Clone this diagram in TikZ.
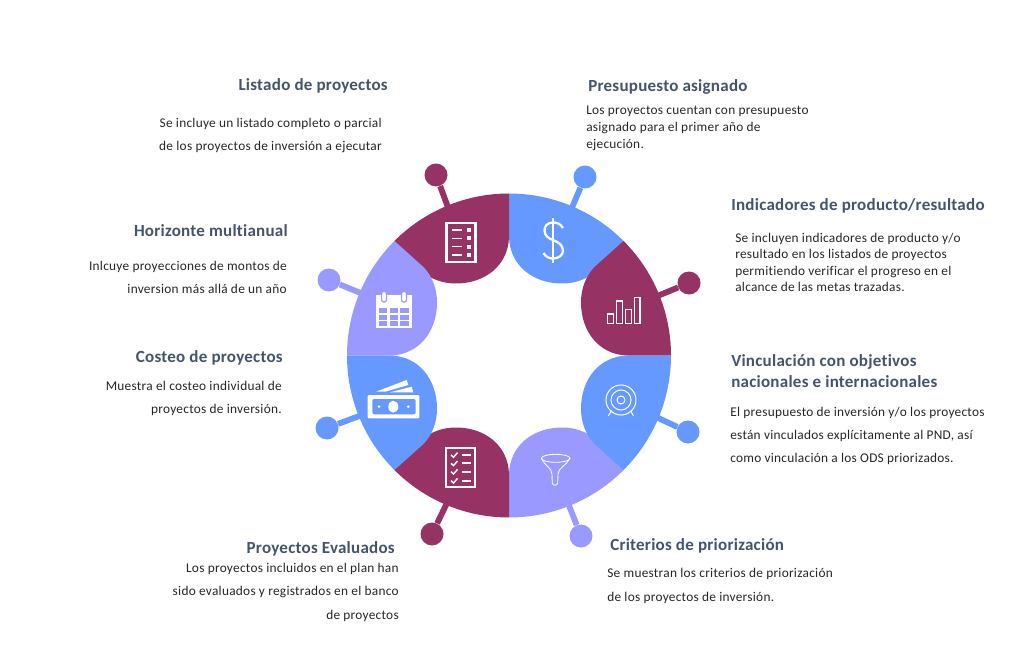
\documentclass[tikz,border=0pt]{standalone}
\usepackage{fontspec}
\setmainfont{Carlito}
\newfontfamily\bodyf[LetterSpace=2,Ligatures=NoCommon]{Carlito}
\newfontfamily\titlef[LetterSpace=1.5,Ligatures=NoCommon]{Carlito}
\definecolor{wine}{HTML}{963264}
\definecolor{skyb}{HTML}{6699FF}
\definecolor{lav}{HTML}{9999FF}
\definecolor{slateT}{HTML}{44546A}
\definecolor{bodyT}{HTML}{262626}
\tikzset{
  ttl/.style={inner sep=0pt,text=slateT,font=\titlef\fontsize{12.75}{16}\selectfont\bfseries},
  bdy/.style={inner sep=0pt,text=bodyT,font=\bodyf\fontsize{10}{#1}\selectfont},
  ball/.style={circle,fill=#1,minimum size=17.25pt,inner sep=0pt},
  stem/.style={draw=#1,line width=4.4pt},
  ico/.style={draw=white,line width=1pt},
}
\newcommand{\petalH}[3]{%
 \fill[#1,shift={(509,355.5)},xscale=#2,yscale=#3]
   (0,-162) .. controls (43,-162) and (84.15,-144.95) .. (114.55,-114.55)
   -- (88,-85) .. controls (78,-76) and (66,-72) .. (53,-72)
   .. controls (24,-72) and (1,-90) .. (0,-118) -- cycle;}
\newcommand{\petalV}[3]{%
 \fill[#1,shift={(509,355.5)},xscale=#2,yscale=#3]
   (162,0) .. controls (162,-43) and (144.95,-84.15) .. (114.55,-114.55)
   -- (85,-88) .. controls (76,-78) and (72,-66) .. (72,-53)
   .. controls (72,-24) and (90,-1) .. (118,0) -- cycle;}
\begin{document}
\begin{tikzpicture}[x=0.75pt,y=-0.75pt]
\useasboundingbox (0,0) rectangle (1024,670);
% stems and balls
\foreach \n/\c/\bx/\by/\ex/\ey in {
 a/skyb/585/177/571/210,
 b/wine/689/283/655/297,
 c/skyb/688/432/654/416,
 d/lav/581/536/568/503,
 e/wine/432/534/447/503,
 f/skyb/327/428/362/415,
 g/lav/329/280/363/294,
 h/wine/436/175/449/210}{
  \node[ball=\c] (b\n) at (\bx,\by) {};
  \coordinate (s\n) at (\ex,\ey);
  \draw[stem=\c] (b\n) -- (s\n);
}
% petals
\petalH{skyb}{1}{1}
\petalH{wine}{-1}{1}
\petalH{lav}{1}{-1}
\petalH{wine}{-1}{-1}
\petalV{wine}{1}{1}
\petalV{skyb}{1}{-1}
\petalV{lav}{-1}{1}
\petalV{skyb}{-1}{-1}
% list icon
\draw[ico,line width=1.7pt] (446.5,223) rectangle (475.5,262);
\foreach \y in {230,238.3,246.7,255}{
 \draw[ico] (452,\y) -- (462,\y);
 \fill[white] (467,\y-2) rectangle (471,\y+2);}
% calendar icon
\fill[white] (376,295) rectangle (412,328);
\foreach \x in {379,389.7,400.3}{\foreach \y in {308,315,321}{
 \fill[lav] (\x,\y) rectangle (\x+8.4,\y+4.8);}}
\foreach \x in {384,404}{\draw[lav,line width=.9pt,fill=white,rounded corners=1.5pt] (\x-2.4,291.5) rectangle (\x+2.4,302);}
% dollar icon
\draw[ico,line width=1.7pt] (553,218) -- (553,263);
\draw[ico,line width=1.7pt] (563,228) .. controls (560,223) and (556,222.5) .. (553,222.5)
  .. controls (547,222.5) and (544.5,226.5) .. (544.5,230.5)
  .. controls (544.5,236) and (549,238.5) .. (553,240)
  .. controls (558,242) and (563,245) .. (563,250.5)
  .. controls (563,255) and (559,258.5) .. (553,258.5)
  .. controls (549,258.5) and (546,257) .. (543.5,253);
% bars icon
\foreach \xa/\ya in {607.7/314,616.7/301,625.7/309.3,634.3/297.3}{
 \draw[ico,line width=.9pt] (\xa,\ya) rectangle (\xa+5.6,323.3);}
% target icon
\foreach \r in {15,10,4}{\draw[ico,line width=.75pt] (621,400) circle[radius=\r];}
\draw[ico,line width=.75pt] (611.7,410.7) -- (608.3,415.7) (630.7,410.7) -- (633.3,415.7);
% funnel icon
\draw[ico,line width=.65pt] (555.7,458.3) circle[x radius=14.3,y radius=4];
\draw[ico,line width=.65pt] (541.4,458.3) .. controls (544,465) and (552,468) .. (552,474)
  -- (552.3,483) .. controls (552.3,486) and (557.7,486) .. (557.7,483)
  -- (558,474) .. controls (558,468) and (567,465) .. (570,458.3);
% cash icon
\fill[white,rounded corners=.8pt] (367.7,395) rectangle (419.3,418.3);
\fill[skyb,rounded corners=1.5pt] (372.3,399) rectangle (415.7,414.3);
\fill[white] (393.3,406.7) circle[x radius=5,y radius=6];
\fill[white] (379,406.7) circle[radius=1.5] (408.3,406.7) circle[radius=1.5];
\fill[white] (376,391.7) -- (406.7,380) -- (408.3,385) -- (385,391.7) -- cycle;
\fill[white] (390,392.3) -- (411.7,386.7) -- (413.3,392.3) -- cycle;
% checklist icon
\draw[ico,line width=1.7pt] (445.8,448) rectangle (475.2,487);
\foreach \y in {455,463.3,471.7,480.7}{
 \draw[ico,line width=1.1pt] (451,\y) -- (453.5,\y+2.3) -- (457.5,\y-2.3);
 \draw[ico,line width=1.3pt] (462.3,\y) -- (471,\y);}
% texts
\node[ttl,anchor=east] (t1) at (388,85.5) {Listado de proyectos};
\node[bdy=17.25pt,anchor=north east,align=right] (d1) at (382,117.5) {Se incluye un listado completo o parcial\\de los proyectos de inversión a ejecutar};
\node[ttl,anchor=west] (t2) at (588,86.5) {Presupuesto asignado};
\node[bdy=12.75pt,anchor=north west,align=left] (d2) at (586,106) {Los proyectos cuentan con presupuesto\\asignado para el primer año de\\ejecución.};
\node[ttl,anchor=west] (t3) at (731,205.5) {Indicadores de producto/resultado};
\node[bdy=12.4pt,anchor=north west,align=left] (d3) at (735,232.5) {Se incluyen indicadores de producto y/o\\resultado en los listados de proyectos\\permitiendo verificar el progreso en el\\alcance de las metas trazadas.};
\node[ttl,anchor=north west,align=left,font=\titlef\fontsize{12.75}{15.75}\selectfont\bfseries] (t4) at (731,354) {Vinculación con objetivos\\nacionales e internacionales};
\node[bdy=17.25pt,anchor=north west,align=left] (d4) at (730,406.5) {El presupuesto de inversión y/o los proyectos\\están vinculados explícitamente al PND, así\\como vinculación a los ODS priorizados.};
\node[ttl,anchor=west] (t5) at (610,545.5) {Criterios de priorización};
\node[bdy=18pt,anchor=north west,align=left] (d5) at (607,568) {Se muestran los criterios de priorización\\de los proyectos de inversión.};
\node[ttl,anchor=east] (t6) at (395,548.5) {Proyectos Evaluados};
\node[bdy=17.5pt,anchor=north east,align=right] (d6) at (399,563) {Los proyectos incluidos en el plan han\\sido evaluados y registrados en el banco\\de proyectos};
\node[ttl,anchor=east] (t7) at (283,357.5) {Costeo de proyectos};
\node[bdy=17.25pt,anchor=north east,align=right] (d7) at (282,381) {Muestra el costeo individual de\\proyectos de inversión.};
\node[ttl,anchor=east] (t8) at (288,230.5) {Horizonte multianual};
\node[bdy=17.25pt,anchor=north east,align=right] (d8) at (287,261) {Inlcuye proyecciones de montos de\\inversion más allá de un año};
\end{tikzpicture}
\end{document}
